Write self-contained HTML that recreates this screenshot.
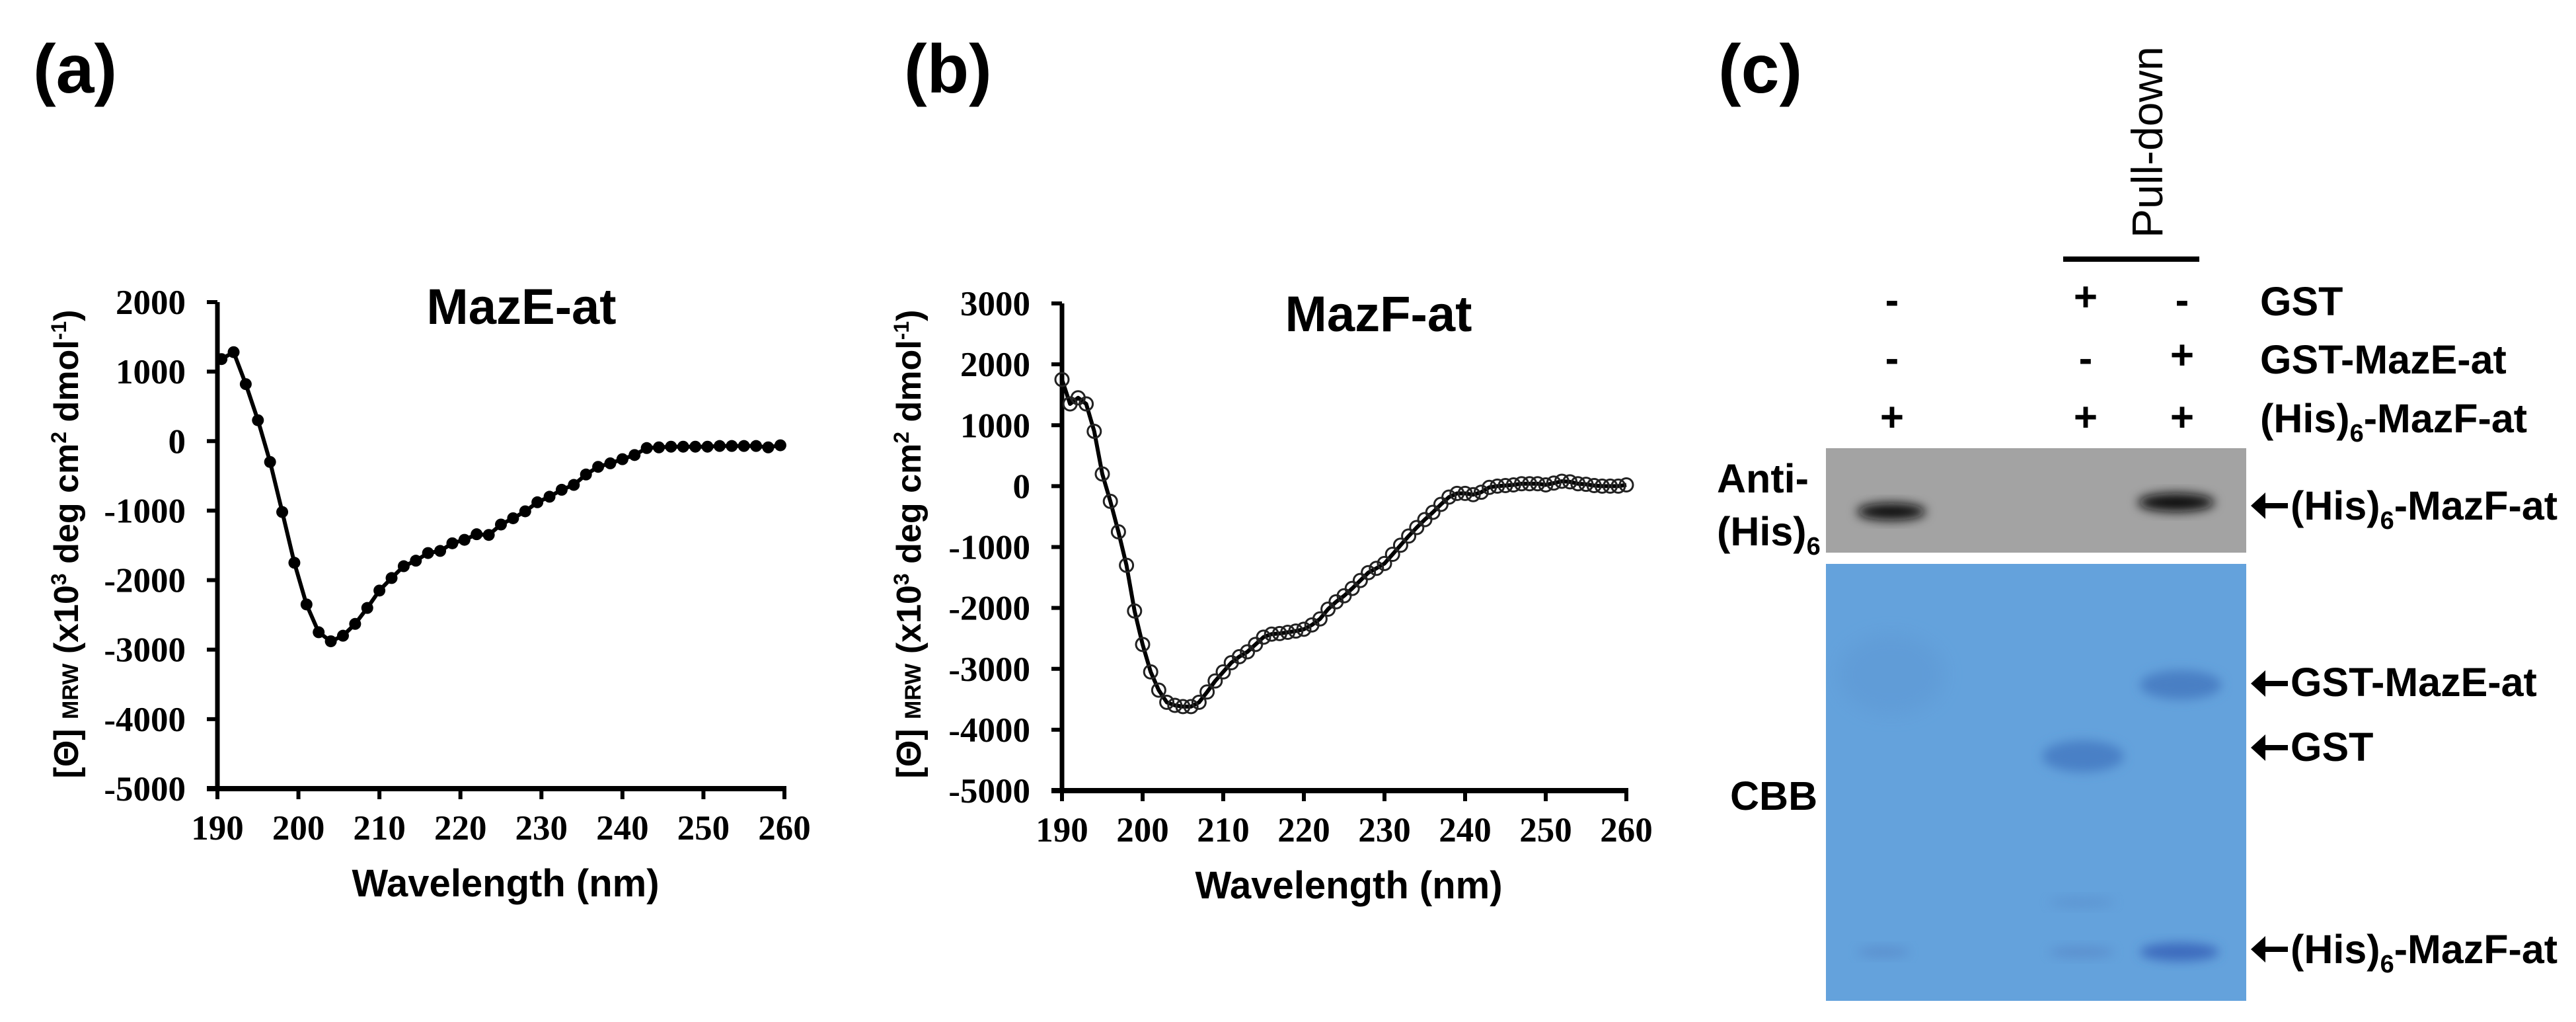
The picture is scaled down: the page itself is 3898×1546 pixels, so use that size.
<!DOCTYPE html>
<html><head><meta charset="utf-8">
<style>
html,body{margin:0;padding:0;background:#fff;}
svg{display:block;}
text{font-family:"Liberation Sans",Arial,sans-serif;}
.serif{font-family:"Liberation Serif","Times New Roman",serif;font-weight:bold;}
</style></head>
<body>
<svg id="fig" width="3898" height="1546" viewBox="0 0 3898 1546" xmlns="http://www.w3.org/2000/svg">
<defs>
<filter id="blur8" x="-50%" y="-50%" width="200%" height="200%"><feGaussianBlur stdDeviation="8"/></filter>
<filter id="blur14" x="-50%" y="-50%" width="200%" height="200%"><feGaussianBlur stdDeviation="14"/></filter>
</defs>
<text x="50" y="140" font-size="104" font-weight="bold">(a)</text>
<text x="1368" y="140" font-size="104" font-weight="bold">(b)</text>
<text x="2600" y="140" font-size="104" font-weight="bold">(c)</text>
<g id="chartA"></g>
<g id="chartB"></g>

<g>
  <text transform="translate(3272,360) rotate(-90)" font-size="66">Pull-down</text>
  <rect x="3122" y="388" width="206" height="8" fill="#000"/>
  <g font-size="62" font-weight="bold" text-anchor="middle">
    <text x="2863" y="475">-</text>
    <text x="3156" y="470">+</text>
    <text x="3302" y="475">-</text>
    <text x="2863" y="563">-</text>
    <text x="3156" y="563">-</text>
    <text x="3302" y="558">+</text>
    <text x="2863" y="652">+</text>
    <text x="3156" y="652">+</text>
    <text x="3302" y="652">+</text>
  </g>
  <g font-size="61" font-weight="bold">
    <text x="3420" y="477">GST</text>
    <text x="3420" y="565">GST-MazE-at</text>
    <text x="3420" y="654">(His)<tspan font-size="38" dy="14">6</tspan><tspan dy="-14">-MazF-at</tspan></text>
  </g>
  <rect x="2763" y="678" width="636" height="158" fill="#a3a3a3"/>
  <ellipse cx="2862" cy="774" rx="52" ry="13" fill="#0a0a0a" filter="url(#blur8)"/>
  <ellipse cx="3293" cy="760" rx="58" ry="14" fill="#0a0a0a" filter="url(#blur8)"/>
  <rect x="2763" y="853" width="636" height="661" fill="#64a2dc"/>
  <ellipse cx="2862" cy="1020" rx="80" ry="60" fill="#5a92cf" filter="url(#blur14)" opacity="0.35"/>
  <ellipse cx="3300" cy="1036" rx="62" ry="22" fill="#4a7fc4" filter="url(#blur8)"/>
  <ellipse cx="3152" cy="1144" rx="62" ry="24" fill="#4a80c6" filter="url(#blur8)"/>
  <ellipse cx="3298" cy="1440" rx="60" ry="14" fill="#3e6cbe" filter="url(#blur8)"/>
  <ellipse cx="2850" cy="1440" rx="40" ry="8" fill="#5889c9" filter="url(#blur8)" opacity="0.7"/>
  <ellipse cx="3150" cy="1440" rx="50" ry="9" fill="#5889c9" filter="url(#blur8)" opacity="0.7"/>
  <ellipse cx="3150" cy="1365" rx="50" ry="8" fill="#5a8fcc" filter="url(#blur8)" opacity="0.6"/>
  <g font-size="61" font-weight="bold">
    <text x="2598" y="745">Anti-</text>
    <text x="2598" y="825">(His)<tspan font-size="38" dy="14">6</tspan></text>
    <text x="2618" y="1225">CBB</text>
  </g>
  <g fill="#000">
    <g><rect x="3420" y="761" width="42" height="8"/><polygon points="3406,765 3428,745 3428,785"/></g>
    <g><rect x="3420" y="1030" width="42" height="8"/><polygon points="3406,1034 3428,1014 3428,1054"/></g>
    <g><rect x="3420" y="1127" width="42" height="8"/><polygon points="3406,1131 3428,1111 3428,1151"/></g>
    <g><rect x="3420" y="1432" width="42" height="8"/><polygon points="3406,1436 3428,1416 3428,1456"/></g>
  </g>
  <g font-size="61" font-weight="bold">
    <text x="3466" y="786">(His)<tspan font-size="38" dy="14">6</tspan><tspan dy="-14">-MazF-at</tspan></text>
    <text x="3466" y="1053">GST-MazE-at</text>
    <text x="3466" y="1151">GST</text>
    <text x="3466" y="1457">(His)<tspan font-size="38" dy="14">6</tspan><tspan dy="-14">-MazF-at</tspan></text>
  </g>
</g>
</svg>
<script>
const wlA = [190.5,192,193.5,195,196.5,198,199.5,201,202.5,204,205.5,207,208.5,210,211.5,213,214.5,216,217.5,219,220.5,222,223.5,225,226.5,228,229.5,231,232.5,234,235.5,237,238.5,240,241.5,243,244.5,246,247.5,249,250.5,252,253.5,255,256.5,258,259.5];
const valA = [1180,1280,820,300,-300,-1020,-1750,-2350,-2750,-2880,-2800,-2630,-2400,-2150,-1970,-1800,-1720,-1610,-1580,-1470,-1420,-1340,-1350,-1200,-1110,-1010,-880,-800,-700,-630,-480,-370,-320,-260,-200,-100,-90,-80,-80,-80,-80,-70,-70,-70,-70,-90,-60];
const wlB = [190,191,192,193,194,195,196,197,198,199,200,201,202,203,204,205,206,207,208,209,210,211,212,213,214,215,216,217,218,219,220,221,222,223,224,225,226,227,228,229,230,231,232,233,234,235,236,237,238,239,240,241,242,243,244,245,246,247,248,249,250,251,252,253,254,255,256,257,258,259,260];
const valB = [1750,1350,1450,1350,900,200,-250,-750,-1300,-2050,-2600,-3050,-3350,-3550,-3600,-3620,-3620,-3550,-3380,-3200,-3050,-2900,-2800,-2720,-2600,-2480,-2430,-2420,-2400,-2380,-2350,-2280,-2180,-2020,-1900,-1800,-1680,-1550,-1420,-1350,-1270,-1120,-970,-820,-680,-550,-430,-300,-180,-120,-120,-140,-100,-20,0,10,20,40,40,40,20,50,80,70,40,30,10,0,0,0,20];
const xTicks = [190,200,210,220,230,240,250,260];
const yTicksA = [2000,1000,0,-1000,-2000,-3000,-4000,-5000];
const yTicksB = [3000,2000,1000,0,-1000,-2000,-3000,-4000,-5000];

const NS = "http://www.w3.org/2000/svg";
function mk(tag, attrs, parent){ const e=document.createElementNS(NS,tag); for(const k in attrs) e.setAttribute(k,attrs[k]); parent.appendChild(e); return e; }

function drawChart(g, cfg){
  const sx = v => cfg.x0 + (v-190)/70*(cfg.x1-cfg.x0);
  const sy = v => cfg.yTop + (cfg.yMax - v)/(cfg.yMax - cfg.yMin)*(cfg.yBot-cfg.yTop);
  const ya = mk('line',{x1:cfg.x0,y1:cfg.yTop,x2:cfg.x0,y2:cfg.yBot,stroke:'#000','stroke-width':7},g);
  
  
  const xa = mk('line',{x1:cfg.x0-16,y1:cfg.yBot,x2:cfg.x1+3,y2:cfg.yBot,stroke:'#000','stroke-width':8},g);
  
  
  cfg.yTicks.forEach(t=>{
    const y=sy(t);
    const tk=mk('line',{x1:cfg.x0-16,y1:y,x2:cfg.x0,y2:y,stroke:'#000','stroke-width':6},g);
    
    
    const lb=mk('text',{x:cfg.x0-48,y:y+18,'text-anchor':'end','font-size':53,'class':'serif'},g);
    lb.textContent=t;
    
    
  });
  xTicks.forEach(t=>{
    const x=sx(t);
    const tk=mk('line',{x1:x,y1:cfg.yBot,x2:x,y2:cfg.yBot+16,stroke:'#000','stroke-width':6},g);
    
    
    const lb=mk('text',{x:x,y:cfg.yBot+77,'text-anchor':'middle','font-size':53,'class':'serif'},g);
    lb.textContent=t;
    
    
  });
  const xt=mk('text',{x:(cfg.x0+cfg.x1)/2+7,y:cfg.yBot+163,'text-anchor':'middle','font-size':58,'font-weight':'bold'},g);
  xt.textContent='Wavelength (nm)';
  
  
  const yt=mk('text',{transform:`translate(${cfg.ytx},${cfg.yty}) rotate(-90)`,'text-anchor':'middle','font-size':52,'font-weight':'bold'},g);
  yt.innerHTML='[Θ] <tspan font-size="34">MRW</tspan> (x10<tspan font-size="32" dy="-18">3</tspan><tspan dy="18"> deg cm</tspan><tspan font-size="32" dy="-18">2</tspan><tspan dy="18"> dmol</tspan><tspan font-size="32" dy="-18">-1</tspan><tspan dy="18">)</tspan>';
  
  
  const tt=mk('text',{x:cfg.tx,y:cfg.ty,'text-anchor':'middle','font-size':76,'font-weight':'bold'},g);
  tt.textContent=cfg.title;
  
  
  const d=cfg.wl.map((w,i)=>(i?'L':'M')+sx(w).toFixed(1)+','+sy(cfg.val[i]).toFixed(1)).join(' ');
  const ln=mk('path',{d:d,fill:'none',stroke:'#000','stroke-width':6,'stroke-linejoin':'round'},g);
  
  
  cfg.wl.forEach((w,i)=>{
    const c=mk('circle',{cx:sx(w),cy:sy(cfg.val[i]),r:cfg.open?10:9,fill:cfg.open?'none':'#000',stroke:cfg.open?'#222':'none','stroke-width':3},g);
    
    
  });
}
drawChart(document.getElementById('chartA'),{x0:329,x1:1187,yTop:457,yBot:1193,yMax:2000,yMin:-5000,yTicks:yTicksA,wl:wlA,val:valA,open:false,title:'MazE-at',tx:789,ty:490,ytx:118,yty:823});
drawChart(document.getElementById('chartB'),{x0:1607,x1:2461,yTop:459,yBot:1196,yMax:3000,yMin:-5000,yTicks:yTicksB,wl:wlB,val:valB,open:true,title:'MazF-at',tx:2086,ty:501,ytx:1393,yty:823});
</script>
</body></html>
